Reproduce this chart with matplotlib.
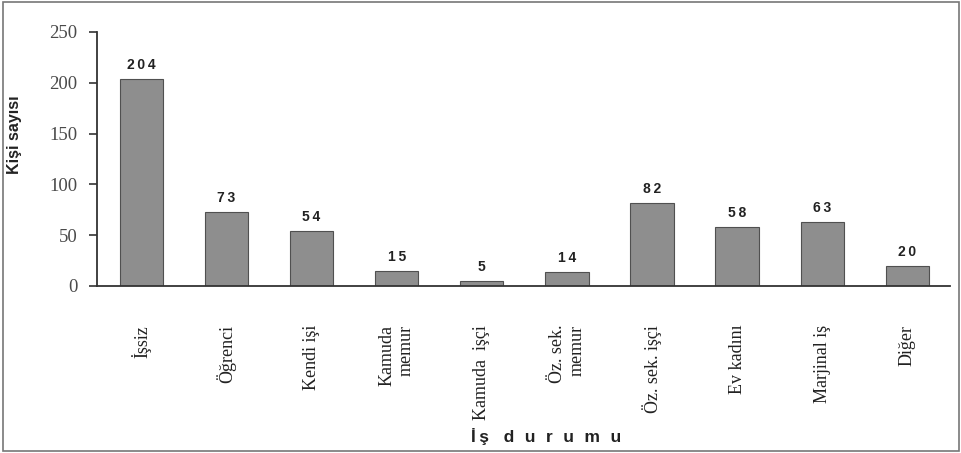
import numpy as np
from matplotlib import pyplot as plt
from matplotlib.patches import Rectangle

categories = ['İşsiz', 'Öğrenci', 'Kendi işi', 'Kamuda\nmemur', 'Kamuda  işçi',
              'Öz. sek.\nmemur', 'Öz. sek. işçi', 'Ev kadını', 'Marjinal iş', 'Diğer']
values = [204, 73, 54, 15, 5, 14, 82, 58, 63, 20]

# labels are spaced out a bit like the scanned original
def spaced(s, sep='\u2009'):
    return sep.join(s)

fig = plt.figure(figsize=(9.62, 4.53), dpi=100)
ax = fig.add_axes([0.1008, 0.3687, 0.8867, 0.5607])

x = np.arange(len(categories))
rects = ax.bar(x, values, width=0.51, color='#8e8e8e', edgecolor='#505050', linewidth=0.8)

for rect in rects:
    h = rect.get_height()
    ax.annotate(spaced(str(int(h))),
                xy=(rect.get_x() + rect.get_width() / 2, h),
                xytext=(0, 5), textcoords='offset points',
                ha='center', va='bottom', fontsize=10, fontweight='bold',
                family=['Liberation Sans', 'DejaVu Sans'], color='#222222')

ax.set_xlim(-0.52, len(categories) - 1 + 0.5)
ax.set_ylim(0, 250)
ax.set_yticks([0, 50, 100, 150, 200, 250])
ax.set_xticks(x)
ax.set_xticklabels(categories, rotation=90, va='top', ha='center', multialignment='right',
                   family='Liberation Serif', fontsize=13, color='#222222')
for lab in ax.get_yticklabels():
    lab.set_family('Liberation Serif')
ax.tick_params(axis='y', direction='out', length=6, width=1.2, labelsize=13.5, pad=8,
               colors='#333333', labelcolor='#4a4a4a')
ax.tick_params(axis='x', length=0, pad=28)

for s in ['top', 'right']:
    ax.spines[s].set_visible(False)
for s in ['left', 'bottom']:
    ax.spines[s].set_color('#333333')
    ax.spines[s].set_linewidth(1.3)

ax.set_ylabel('Kişi sayısı', fontsize=11.5, fontweight='bold',
              family=['Liberation Sans', 'DejaVu Sans'], color='#222222')
ax.yaxis.set_label_coords(-0.088, 0.594)
ax.set_xlabel('İ\u2009ş   ' + spaced('durumu', '\u2009\u2009\u2009'), fontsize=12.5, fontweight='bold',
              family=['Liberation Sans', 'DejaVu Sans'], color='#222222', va='center')
ax.xaxis.set_label_coords(0.526, -0.594)

fig.patches.append(Rectangle((0.003, 0.005), 0.994, 0.99, transform=fig.transFigure,
                             fill=False, edgecolor='#777777', linewidth=1.2))

plt.savefig('out.png')
